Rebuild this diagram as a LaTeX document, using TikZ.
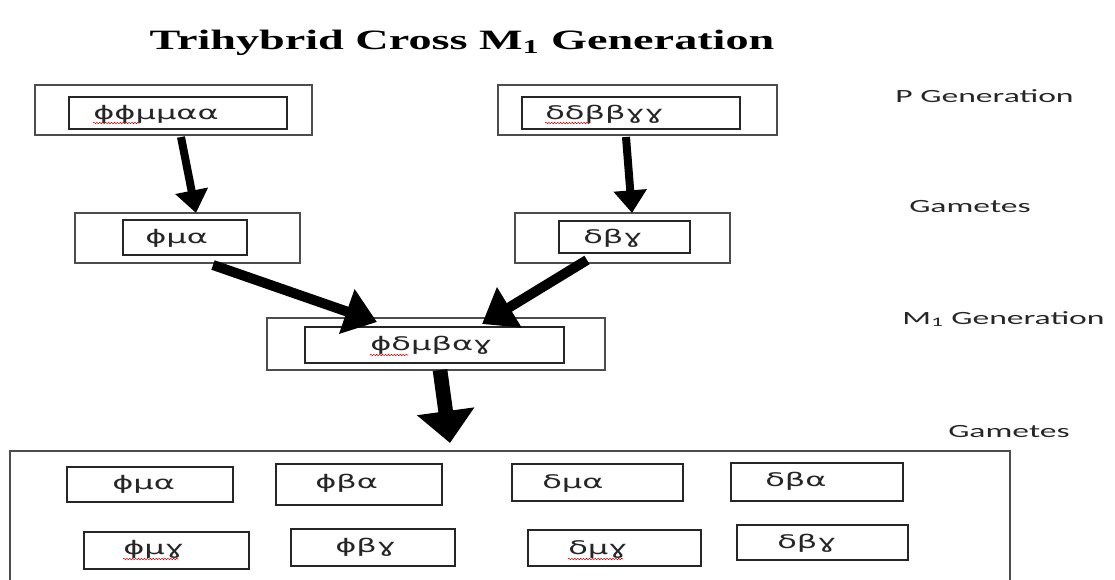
\documentclass[tikz,border=0pt]{standalone}
\usepackage{fontspec}
\setmainfont{Carlito}[FakeStretch=1.8]
\newfontfamily\greekfont{DejaVu Sans}[FakeStretch=1.72]
\newfontfamily\titlefont{Liberation Serif}[FakeStretch=1.65]
\usetikzlibrary{arrows.meta,decorations.pathmorphing,calc}
\tikzset{
  box/.style n args={2}{draw=black!85, line width=0.9pt, minimum width=#1*0.75pt, minimum height=#2*0.75pt, inner sep=0pt, outer sep=0pt},
  obox/.style n args={2}{draw=black!70, line width=1.1pt, minimum width=#1*0.75pt, minimum height=#2*0.75pt, inner sep=0pt, outer sep=0pt},
  lbl/.style={inner sep=0pt, font=\fontsize{14}{16}\selectfont, text=black!85},
  gk/.style={inner sep=0pt, anchor=base west, font=\greekfont\fontsize{14}{16}\selectfont, text=black!85},
  arrA/.style={line width=6pt, -{Triangle[length=17pt,width=24pt]}},
  arrB/.style={line width=7.5pt, -{Triangle[length=24pt,width=34pt]}},
  arrC/.style={line width=11pt, -{Triangle[length=24pt,width=42pt]}},
  squig/.style={red!80!black, line width=0.4pt, decorate, decoration={snake, amplitude=0.5pt, segment length=2.2pt}}
}
\begin{document}
\begin{tikzpicture}[x=0.75pt,y=-0.75pt]
\useasboundingbox (0,0) rectangle (1115,579);
% title
\node[inner sep=0pt, font=\titlefont\bfseries\fontsize{21}{24}\selectfont] (title) at (462,43) {Trihybrid Cross M\textsubscript{1} Generation};
% P generation
\node[obox={277}{50}] (plo) at (173.5,110) {};
\node[box={218}{32}] (pli) at (178,113) {};
\node[gk] (plt) at (93,119) {ϕϕμμαα};
\node[obox={279}{50}] (pro) at (637.5,110) {};
\node[box={218}{32}] (pri) at (631,113) {};
\node[gk] (prt) at (545,119) {δδββɣɣ};
% gametes
\node[obox={225}{50}] (glo) at (187.5,238) {};
\node[box={124}{35}] (gli) at (185,237.5) {};
\node[gk] (glt) at (145,243) {ϕμα};
\node[obox={215}{50}] (gro) at (622.5,238) {};
\node[box={131}{32}] (gri) at (624.5,237) {};
\node[gk] (grt) at (583,243) {δβɣ};
% M1
\node[obox={338}{52}] (mo) at (436,344) {};
\node[box={259}{36}] (mi) at (434.5,345) {};
\node[gk] (mt) at (370,350.5) {ϕδμβαɣ};
% bottom
\node[obox={1000}{160}] (big) at (510,531) {};
\node[box={166}{35}] (b1) at (150,484.5) {};
\node[box={166}{41}] (b2) at (359,484.5) {};
\node[box={171}{37}] (b3) at (597.5,482.5) {};
\node[box={172}{38}] (b4) at (817,482) {};
\node[box={165}{37}] (b5) at (166.5,550.5) {};
\node[box={164}{37}] (b6) at (373,547.5) {};
\node[box={173}{36}] (b7) at (614.5,548) {};
\node[box={171}{35}] (b8) at (822.5,542.5) {};
\node[gk] (t1) at (112,489.5) {ϕμα};
\node[gk] (t2) at (315,488.5) {ϕβα};
\node[gk] (t3) at (542,488.5) {δμα};
\node[gk] (t4) at (765,486.5) {δβα};
\node[gk] (t5) at (123,554.5) {ϕμɣ};
\node[gk] (t6) at (335,552.5) {ϕβɣ};
\node[gk] (t7) at (568,554.5) {δμɣ};
\node[gk] (t8) at (777,548.5) {δβɣ};
% right labels
\node[lbl] (lp) at (984.5,96) {P Generation};
\node[lbl] (lg1) at (970,207) {Gametes};
\node[lbl] (lm) at (1003.5,319) {M\textsubscript{1} Generation};
\node[lbl] (lg2) at (1009,432) {Gametes};
% arrows
\draw[arrA] ($(plo.south)+(7.5,2)$) -- ($(glo.north)+(8.5,0)$);
\draw[arrA] ($(pro.south)+(-11.5,2)$) -- ($(gro.north)+(9.5,0)$);
\draw[arrB] ($(glo.south)+(25.5,2)$) -- ($(mo.north)+(-59,4)$);
\draw[arrB] ($(gro.south)+(-35.5,-3)$) -- ($(mo.north)+(46,6)$);
\draw[arrC] ($(mo.south)+(4,0)$) -- ($(big.north)+(-60,-8)$);
% spell-check marks
\draw[squig] (93,123) -- (140,123);
\draw[squig] (545,123) -- (590,123);
\draw[squig] (370,355) -- (408,355);
\draw[squig] (123,559) -- (178,559);
\draw[squig] (568,559) -- (623,559);
\end{tikzpicture}
\end{document}
